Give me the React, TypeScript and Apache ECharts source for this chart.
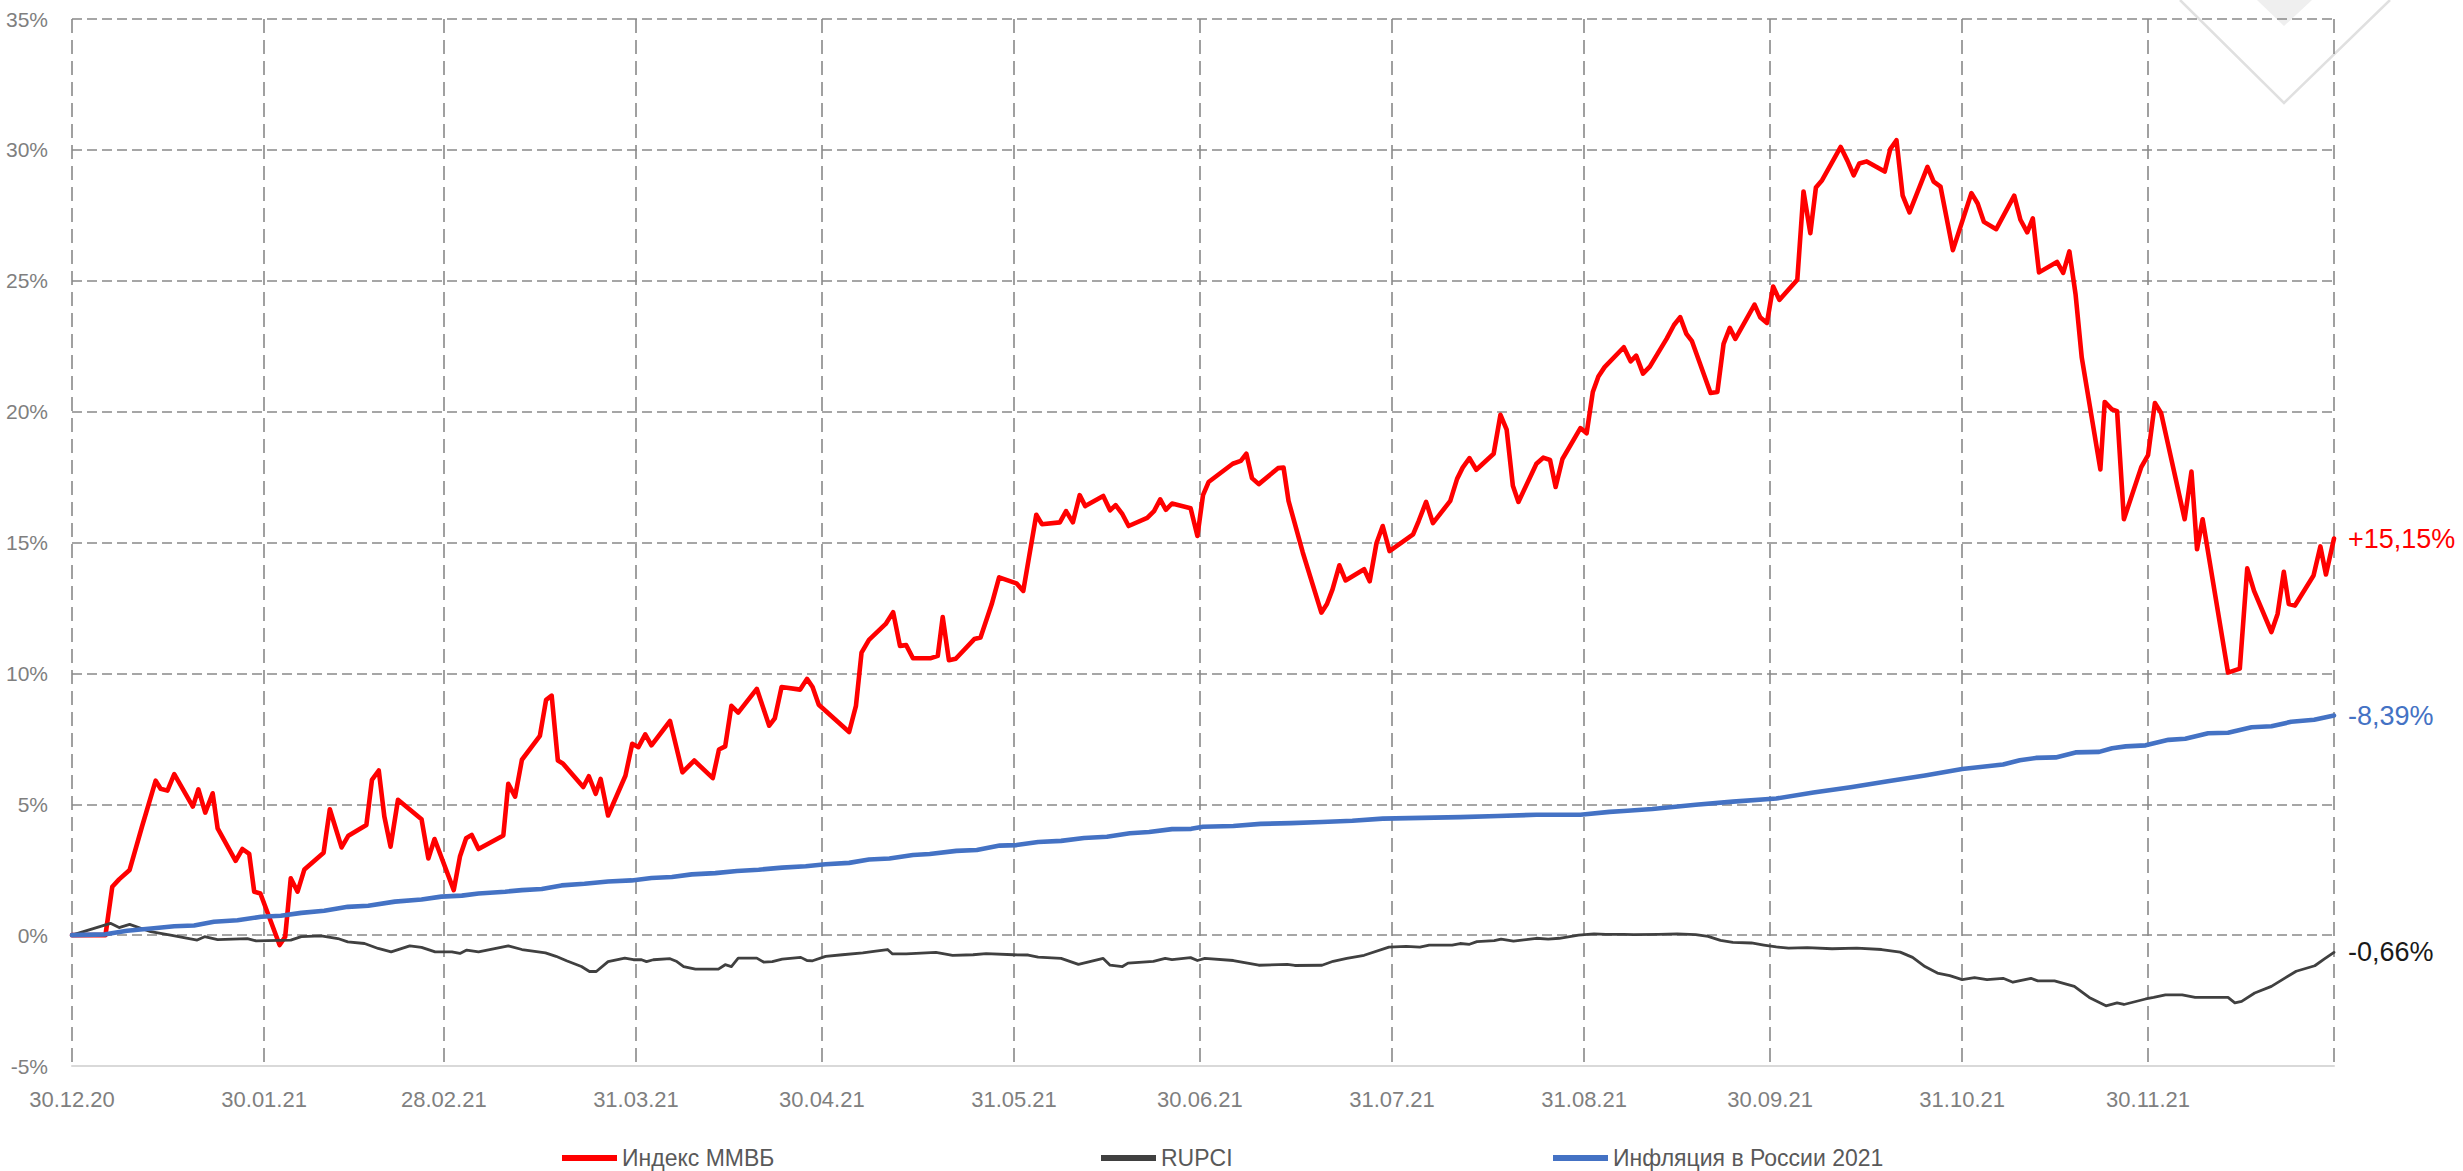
import React, { useEffect, useRef } from "react";
import * as echarts from "echarts";

// ---- data ----
const seriesNames = ["Индекс ММВБ", "RUPCI", "Инфляция в России 2021"];
const seriesColors = ["#ff0000", "#404040", "#4472c4"];
const endLabels = ["+15,15%", "-0,66%", "-8,39%"];
const endLabelColors = ["#ff0000", "#1a1a1a", "#4472c4"];

// day offsets (from 30.12.20) of month gridlines and their labels
const tickDays = [0, 31, 60, 91, 121, 152, 182, 213, 244, 274, 305, 335, 365];
const tickLabels = ["30.12.20", "30.01.21", "28.02.21", "31.03.21", "30.04.21", "31.05.21", "30.06.21", "31.07.21", "31.08.21", "30.09.21", "31.10.21", "30.11.21", ""];
const dayCount = 366;

// [day offset from 30.12.20, % change]
const mmvb: [number, number][] = [
  [0, 0], [5.4, 0], [6.5, 1.85], [7.6, 2.13], [9.3, 2.49], [11.3, 4.15], [13.5, 5.9], [14.3, 5.59], [15.4, 5.52], [16.5, 6.15],
  [19.5, 4.91], [20.4, 5.57], [21.5, 4.68], [22.7, 5.42], [23.5, 4.08], [26.4, 2.84], [27.5, 3.29], [28.6, 3.1], [29.4, 1.66], [30.4, 1.59],
  [31.8, 0.7], [33.5, -0.38], [34.4, -0.06], [35.3, 2.17], [36.4, 1.66], [37.5, 2.51], [40.6, 3.15], [41.6, 4.81], [43.5, 3.35], [44.6, 3.8],
  [47.5, 4.21], [48.4, 5.93], [49.5, 6.29], [50.4, 4.53], [51.4, 3.38], [52.6, 5.17], [56.4, 4.43], [57.5, 2.93], [58.5, 3.67], [61.6, 1.72],
  [62.6, 3.0], [63.6, 3.7], [64.5, 3.83], [65.6, 3.29], [69.6, 3.81], [70.4, 5.78], [71.5, 5.29], [72.6, 6.7], [75.5, 7.61], [76.5, 8.99],
  [77.4, 9.15], [78.4, 6.67], [79.2, 6.56], [82.5, 5.66], [83.4, 6.07], [84.5, 5.4], [85.3, 5.97], [86.5, 4.57], [89.3, 6.09], [90.4, 7.31],
  [91.4, 7.18], [92.5, 7.67], [93.5, 7.25], [96.5, 8.18], [98.5, 6.22], [100.4, 6.67], [103.4, 6.0], [104.4, 7.09], [105.4, 7.21], [106.4, 8.76],
  [107.5, 8.5], [110.5, 9.41], [112.5, 8.0], [113.4, 8.28], [114.5, 9.48], [117.5, 9.38], [118.6, 9.79], [119.5, 9.48], [120.5, 8.8], [125.4, 7.76],
  [126.5, 8.76], [127.4, 10.79], [128.6, 11.28], [131.3, 11.89], [132.5, 12.34], [133.6, 11.05], [134.6, 11.08], [135.7, 10.58], [138.6, 10.58], [139.7, 10.67],
  [140.5, 12.15], [141.5, 10.5], [142.6, 10.56], [145.6, 11.31], [146.6, 11.37], [148.4, 12.64], [149.6, 13.67], [152.4, 13.44], [153.5, 13.15], [154.4, 14.4],
  [155.6, 16.06], [156.5, 15.7], [159.4, 15.77], [160.4, 16.2], [161.5, 15.77], [162.6, 16.81], [163.5, 16.39], [166.4, 16.78], [167.5, 16.23], [168.4, 16.43],
  [169.5, 16.08], [170.5, 15.63], [173.5, 15.94], [174.6, 16.2], [175.6, 16.65], [176.5, 16.25], [177.5, 16.49], [180.5, 16.31], [181.6, 15.25], [182.5, 16.81],
  [183.4, 17.31], [187.3, 18.01], [188.6, 18.12], [189.5, 18.39], [190.4, 17.46], [191.5, 17.23], [194.6, 17.84], [195.5, 17.86], [196.3, 16.59], [198.6, 14.62],
  [201.6, 12.32], [202.5, 12.65], [203.4, 13.21], [204.5, 14.13], [205.5, 13.55], [208.5, 13.98], [209.4, 13.52], [210.5, 14.98], [211.5, 15.63], [212.6, 14.67],
  [216.4, 15.31], [217.3, 15.82], [218.5, 16.55], [219.6, 15.74], [222.4, 16.59], [223.5, 17.43], [224.4, 17.86], [225.5, 18.22], [226.6, 17.78], [229.4, 18.39],
  [230.5, 19.88], [231.5, 19.31], [232.5, 17.17], [233.4, 16.55], [236.3, 18.01], [237.4, 18.24], [238.5, 18.15], [239.4, 17.12], [240.5, 18.19], [243.4, 19.37],
  [244.4, 19.17], [245.4, 20.75], [246.3, 21.34], [247.3, 21.7], [250.4, 22.46], [251.5, 21.92], [252.4, 22.14], [253.5, 21.45], [254.6, 21.72], [257.3, 22.78],
  [258.5, 23.31], [259.5, 23.61], [260.5, 22.97], [261.4, 22.69], [264.4, 20.71], [265.5, 20.75], [266.5, 22.59], [267.5, 23.2], [268.4, 22.78], [271.5, 24.09],
  [272.4, 23.61], [273.5, 23.39], [274.5, 24.78], [275.5, 24.27], [278.4, 25.04], [279.4, 28.41], [280.5, 26.82], [281.4, 28.56], [282.4, 28.84], [285.4, 30.11],
  [286.5, 29.58], [287.5, 29.03], [288.4, 29.48], [289.6, 29.56], [292.5, 29.17], [293.4, 30.03], [294.4, 30.37], [295.4, 28.25], [296.5, 27.61], [299.4, 29.35],
  [300.4, 28.79], [301.5, 28.6], [303.5, 26.17], [306.5, 28.35], [307.5, 27.95], [308.5, 27.25], [310.5, 26.97], [313.4, 28.25], [314.4, 27.33], [315.5, 26.85],
  [316.4, 27.38], [317.4, 25.32], [320.3, 25.72], [321.3, 25.3], [322.3, 26.12], [323.3, 24.48], [324.3, 22.06], [327.3, 17.79], [328.0, 20.37], [329.2, 20.08],
  [330.0, 20.02], [331.1, 15.89], [333.9, 17.88], [335.0, 18.34], [336.1, 20.33], [337.1, 19.95], [340.9, 15.89], [342.0, 17.71], [342.9, 14.74], [343.8, 15.89],
  [347.9, 10.03], [349.8, 10.18], [351.0, 14.01], [352.1, 13.15], [354.9, 11.58], [355.9, 12.27], [356.9, 13.88], [357.7, 12.65], [358.7, 12.59], [361.7, 13.74],
  [362.8, 14.85], [363.7, 13.78], [365, 15.15],
];

const rupci: [number, number][] = [
  [0, 0], [6.2, 0.45], [7.6, 0.29], [9.3, 0.41], [12.7, 0.13], [15.9, 0], [20.2, -0.19], [21.4, -0.06], [23.5, -0.17], [28.3, -0.13],
  [29.7, -0.22], [35.3, -0.19], [37, -0.06], [40.2, -0.03], [42.9, -0.13], [44.5, -0.26], [47.2, -0.32], [49.4, -0.51], [51.5, -0.64], [54.5, -0.41],
  [56.4, -0.47], [58.6, -0.64], [61.3, -0.64], [62.6, -0.7], [63.7, -0.57], [65.6, -0.64], [70.4, -0.41], [72.6, -0.55], [76.4, -0.68], [78.1, -0.81],
  [79.8, -0.98], [82.2, -1.2], [83.5, -1.39], [84.6, -1.39], [86.5, -1.01], [89.2, -0.88], [90.6, -0.94], [91.9, -0.94], [92.7, -1.01], [93.8, -0.94],
  [96.5, -0.9], [97.6, -1.01], [98.7, -1.2], [100.6, -1.3], [104.3, -1.3], [105.4, -1.13], [106.4, -1.2], [107.5, -0.88], [110.5, -0.88], [111.6, -1.03],
  [113, -1.01], [114.6, -0.92], [117.6, -0.85], [118.6, -0.97], [119.5, -0.98], [121.6, -0.81], [124.3, -0.75], [127.6, -0.68], [129.7, -0.61], [131.6, -0.55],
  [132.4, -0.72], [134.6, -0.72], [139.4, -0.66], [142.1, -0.77], [145.4, -0.75], [147.5, -0.71], [151.9, -0.75], [154.3, -0.76], [155.9, -0.84], [159.6, -0.89],
  [162.4, -1.12], [166.4, -0.89], [167.5, -1.15], [169.5, -1.2], [170.4, -1.07], [174.5, -1.0], [176.4, -0.89], [177.5, -0.94], [180.5, -0.86], [181.6, -0.97],
  [182.8, -0.89], [187.4, -0.97], [191.5, -1.15], [196.1, -1.12], [197.3, -1.16], [201.7, -1.15], [203.5, -1.0], [205.7, -0.89], [208.5, -0.77], [212.5, -0.46],
  [215.3, -0.43], [217.5, -0.46], [219, -0.38], [222.7, -0.38], [224, -0.32], [225.5, -0.35], [226.7, -0.25], [229.5, -0.21], [230.6, -0.15], [232.6, -0.23],
  [236.3, -0.12], [238.2, -0.15], [240, -0.12], [243.1, 0], [245.6, 0.05], [247.5, 0.03], [250.4, 0.03], [252, 0.02], [256, 0.03], [259, 0.05],
  [262, 0.02], [264, -0.05], [266, -0.2], [268, -0.28], [271, -0.3], [273, -0.38], [275, -0.45], [277, -0.5], [280, -0.48], [284, -0.52],
  [288, -0.5], [292, -0.55], [295, -0.65], [297, -0.85], [299, -1.2], [301, -1.45], [303, -1.55], [305, -1.7], [307, -1.62], [309, -1.7],
  [311.6, -1.65], [313.2, -1.8], [316.1, -1.65], [317.2, -1.75], [319.9, -1.75], [323.1, -1.96], [325.5, -2.38], [328.2, -2.7], [330.0, -2.59], [331.1, -2.65],
  [334.6, -2.44], [335.9, -2.38], [337.8, -2.28], [340.5, -2.28], [342.6, -2.38], [347.9, -2.38], [349.0, -2.59], [350.1, -2.53], [352.2, -2.21], [354.9, -1.96],
  [357.0, -1.65], [358.9, -1.38], [361.9, -1.17], [363.4, -0.92], [365, -0.66],
];

const inflation: [number, number][] = [
  [0, 0], [5.4, 0.03], [8.9, 0.17], [13.2, 0.26], [16.5, 0.34], [19.7, 0.37], [22.9, 0.51], [26.7, 0.57], [30.5, 0.7], [33.7, 0.74],
  [37, 0.85], [40.7, 0.93], [44.5, 1.08], [47.8, 1.12], [52.1, 1.28], [56.4, 1.36], [59.6, 1.47], [62.9, 1.51], [65.6, 1.59], [69.9, 1.66],
  [72.6, 1.72], [75.8, 1.76], [79.0, 1.9], [82.7, 1.96], [86.5, 2.05], [90.3, 2.09], [93.5, 2.18], [96.8, 2.22], [100, 2.32], [103.8, 2.37],
  [107.3, 2.45], [110.8, 2.5], [114.6, 2.58], [118.4, 2.63], [121.6, 2.71], [125.4, 2.76], [128.6, 2.89], [131.9, 2.93], [135.7, 3.06], [138.4, 3.1],
  [142.7, 3.22], [146, 3.25], [149.7, 3.42], [152.4, 3.44], [155.9, 3.56], [159.6, 3.6], [163.3, 3.71], [167, 3.76], [170.7, 3.89], [173.8, 3.94],
  [177.5, 4.05], [180.6, 4.06], [182.5, 4.14], [187.4, 4.17], [191.8, 4.25], [196.7, 4.28], [201.7, 4.32], [206.6, 4.37], [211.5, 4.45], [217.8, 4.48],
  [224, 4.51], [230.1, 4.55], [236.3, 4.6], [243.4, 4.6], [248.1, 4.71], [250.4, 4.74], [255, 4.82], [262, 4.98], [268, 5.1], [275, 5.22],
  [281, 5.45], [287, 5.65], [293, 5.88], [299, 6.1], [305, 6.35], [311.6, 6.52], [314.3, 6.68], [316.9, 6.77], [320.1, 6.79], [323.3, 6.98],
  [327.1, 7.0], [329.2, 7.14], [331.4, 7.21], [334.6, 7.25], [338.3, 7.46], [341, 7.5], [344.7, 7.71], [347.9, 7.73], [351.7, 7.94], [354.9, 7.98],
  [358.1, 8.15], [361.8, 8.23], [365, 8.39],
];

const seriesData = [mmvb, rupci, inflation];
const seriesWidths = [4.6, 2.8, 4.6];
const legendLefts = [562, 1101, 1553];

const FONT = "'Liberation Sans', Arial, sans-serif";

export default function App() {
  const ref = useRef<HTMLDivElement>(null);

  useEffect(() => {
    document.body.style.margin = "0";
    if (!ref.current) return;
    const chart = echarts.init(ref.current, undefined, { renderer: "svg" });

    const categories = Array.from({ length: dayCount }, (_, i) => String(i));
    const tickSet = new Set(tickDays);

    const option: any = {
      animation: false,
      backgroundColor: "#ffffff",
      textStyle: { fontFamily: FONT },
      grid: { left: 72, top: 19, width: 2262, height: 1047, containLabel: false },
      xAxis: [
        {
          type: "category",
          data: categories,
          boundaryGap: false,
          axisLine: { show: true, onZero: false, lineStyle: { color: "#d9d9d9", width: 2 } },
          axisTick: { show: false },
          axisLabel: {
            interval: (index: number) => tickSet.has(index) && tickLabels[tickDays.indexOf(index)] !== "",
            formatter: (_v: string, index: number) => tickLabels[tickDays.indexOf(index)] ?? "",
            color: "#7f7f7f",
            fontSize: 22,
            fontFamily: FONT,
            margin: 22,
          },
          splitLine: {
            show: true,
            interval: (index: number) => tickSet.has(index),
            lineStyle: { color: "#898989", width: 1.6, type: [14, 7] },
          },
        },
        { type: "value", min: 0, max: dayCount - 1, show: false },
      ],
      yAxis: {
        type: "value",
        min: -5,
        max: 35,
        interval: 5,
        axisLine: { show: false },
        axisTick: { show: false },
        axisLabel: { formatter: "{value}%", color: "#7f7f7f", fontSize: 21, fontFamily: FONT, margin: 24 },
        splitLine: { show: true, lineStyle: { color: "#898989", width: 1.6, type: [10, 5] } },
      },
      legend: seriesNames.map((name, i) => ({
        data: [name],
        left: legendLefts[i],
        top: 1145,
        padding: 0,
        icon: "rect",
        itemWidth: 55,
        itemHeight: 6,
        itemGap: 0,
        selectedMode: false,
        textStyle: { color: "#595959", fontSize: 23, fontFamily: FONT, lineHeight: 26 },
      })),
      graphic: [
        {
          type: "polygon",
          shape: { points: [[2257, 0], [2284, 26], [2312, 0]] },
          style: { fill: "#efefef" },
          z: 0,
        },
        {
          type: "polyline",
          shape: { points: [[2180, 0], [2284, 103], [2390, 0]] },
          style: { stroke: "#e0e0e0", lineWidth: 2.5, fill: null },
          z: 0,
        },
      ],
      series: seriesNames.map((name, i) => ({
        name,
        type: "line",
        xAxisIndex: 1,
        yAxisIndex: 0,
        data: seriesData[i],
        showSymbol: false,
        symbol: "none",
        clip: false,
        itemStyle: { color: seriesColors[i] },
        lineStyle: { color: seriesColors[i], width: seriesWidths[i], join: "round", cap: "round" },
        endLabel: {
          show: true,
          formatter: () => endLabels[i],
          color: endLabelColors[i],
          fontSize: 27,
          fontFamily: FONT,
          distance: 14,
        },
        z: 2 + i,
      })),
    };

    chart.setOption(option);
    return () => chart.dispose();
  }, []);

  return <div ref={ref} style={{ width: 2463, height: 1171 }} />;
}
